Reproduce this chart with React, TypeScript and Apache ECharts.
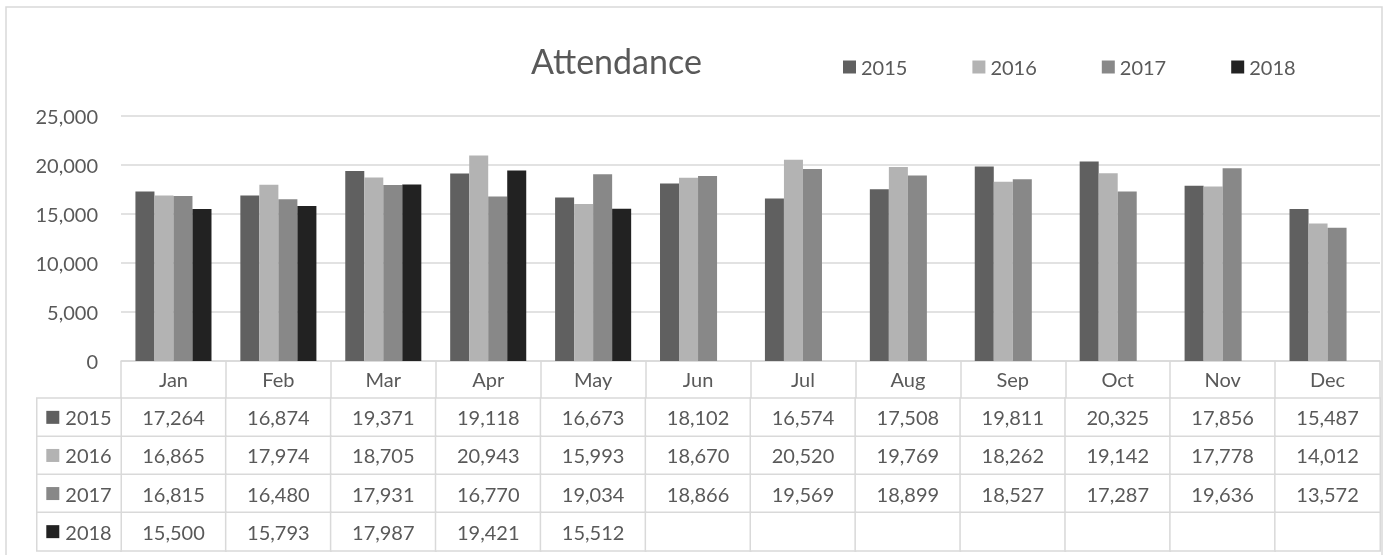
import React, { useEffect, useRef } from 'react';
import * as echarts from 'echarts';

const months = ['Jan', 'Feb', 'Mar', 'Apr', 'May', 'Jun', 'Jul', 'Aug', 'Sep', 'Oct', 'Nov', 'Dec'];
const years = ['2015', '2016', '2017', '2018'];
const v2015 = [17264, 16874, 19371, 19118, 16673, 18102, 16574, 17508, 19811, 20325, 17856, 15487];
const v2016 = [16865, 17974, 18705, 20943, 15993, 18670, 20520, 19769, 18262, 19142, 17778, 14012];
const v2017 = [16815, 16480, 17931, 16770, 19034, 18866, 19569, 18899, 18527, 17287, 19636, 13572];
const v2018 = [15500, 15793, 17987, 19421, 15512, null, null, null, null, null, null, null];
const colors = ['#606060', '#b3b3b3', '#888888', '#222222'];

const TEXT = '#595959';
const LINE = '#d9d9d9';
const FONT = 'Lato';

export default function App() {
  const ref = useRef<HTMLDivElement>(null);
  useEffect(() => {
    const chart = echarts.init(ref.current!, null, { renderer: 'svg' });
    const rows: (number | null)[][] = [v2015, v2016, v2017, v2018];
    const fmt = (v: number) => v.toLocaleString('en-US');
    const cellData: number[][] = [];
    rows.forEach((row, r) => row.forEach((v, m) => cellData.push([m, r, v ?? 0])));
    const labelData = years.map((_, r) => [0, r, r]);
    const rich: any = { t: { fontSize: 20, color: TEXT, fontFamily: FONT, padding: [0, 0, 0, 6] } };
    colors.forEach((c, i) => {
      rich['s' + i] = { width: 13, height: 13, backgroundColor: c };
    });

    const gridTop = 115.7;
    const gridBottom = 361;
    const tableTop = 398.3;
    const tableBottom = 550.7;

    chart.setOption({
      animation: false,
      textStyle: { fontFamily: FONT },
      title: {
        text: 'Attendance',
        left: 531,
        top: 43,
        padding: 0,
        textStyle: { fontSize: 34, fontWeight: 'normal', color: TEXT, fontFamily: FONT },
      },
      legend: {
        left: 843,
        top: 57,
        padding: 0,
        icon: 'rect',
        itemWidth: 13,
        itemHeight: 13,
        itemGap: 65,
        textStyle: { fontSize: 20, color: TEXT, fontFamily: FONT },
        data: years,
      },
      visualMap: {
        type: 'continuous',
        show: false,
        seriesIndex: [4, 5],
        dimension: 2,
        min: 0,
        max: 30000,
        inRange: { color: ['#ffffff', '#ffffff'] },
      },
      graphic: [
        {
          type: 'rect',
          silent: true,
          z: -10,
          shape: { x: 6, y: 7, width: 1376, height: 600 },
          style: { fill: 'none', stroke: LINE, lineWidth: 1.5 },
        },
      ],
      grid: [
        { left: 121, right: 3, top: gridTop, height: gridBottom - gridTop },
        { left: 121, right: 3, top: tableTop, height: tableBottom - tableTop },
        { left: 37, width: 84, top: tableTop, height: tableBottom - tableTop },
      ],
      xAxis: [
        {
          type: 'category',
          gridIndex: 0,
          data: months,
          axisLine: { lineStyle: { color: LINE, width: 1.5 } },
          axisTick: { show: true, length: 37, interval: 0, lineStyle: { color: LINE, width: 1.5 } },
          axisLabel: { fontSize: 20, color: TEXT, margin: 8, interval: 0, fontFamily: FONT },
        },
        { type: 'category', gridIndex: 1, data: months, show: false },
        { type: 'category', gridIndex: 2, data: [''], show: false },
      ],
      yAxis: [
        {
          type: 'value',
          gridIndex: 0,
          min: 0,
          max: 25000,
          interval: 5000,
          axisLine: { show: false },
          axisTick: { show: false },
          splitLine: { lineStyle: { color: LINE, width: 1.5 } },
          axisLabel: {
            fontSize: 20,
            color: TEXT,
            margin: 23,
            fontFamily: FONT,
            formatter: (v: number) => fmt(v),
          },
        },
        { type: 'category', gridIndex: 1, data: years, inverse: true, show: false },
        { type: 'category', gridIndex: 2, data: years, inverse: true, show: false },
      ],
      series: [
        ...years.map((y, i) => ({
          type: 'bar',
          name: y,
          xAxisIndex: 0,
          yAxisIndex: 0,
          data: rows[i],
          barGap: '0%',
          barCategoryGap: '27.5%',
          itemStyle: { color: colors[i] },
        })),
        {
          type: 'heatmap',
          xAxisIndex: 1,
          yAxisIndex: 1,
          data: cellData,
          itemStyle: { color: '#ffffff', borderColor: LINE, borderWidth: 1.5 },
          emphasis: { disabled: true },
          label: {
            show: true,
            fontSize: 20,
            color: TEXT,
            fontFamily: FONT,
            formatter: (p: any) => {
              const v = rows[p.data[1]][p.data[0]];
              return v == null ? '' : fmt(v);
            },
          },
        },
        {
          type: 'heatmap',
          xAxisIndex: 2,
          yAxisIndex: 2,
          data: labelData,
          itemStyle: { color: '#ffffff', borderColor: LINE, borderWidth: 1.5 },
          emphasis: { disabled: true },
          label: {
            show: true,
            rich,
            formatter: (p: any) => `{s${p.data[1]}|}{t|${years[p.data[1]]}}`,
          },
        },
      ],
    });
    return () => chart.dispose();
  }, []);
  return <div ref={ref} style={{ position: 'fixed', left: 0, top: 0, width: 1383, height: 555 }} />;
}
